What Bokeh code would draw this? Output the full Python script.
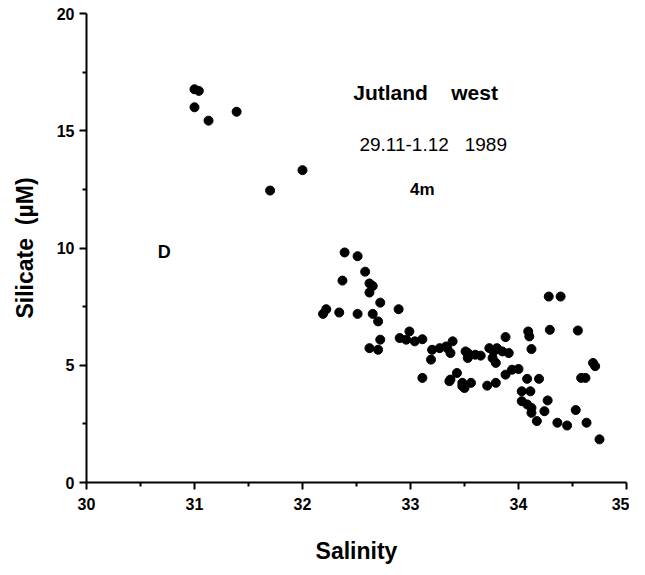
from bokeh.plotting import figure
from bokeh.models import FixedTicker, Label
from bokeh.embed import file_html
from bokeh.resources import INLINE

salinity = [31.00, 31.04, 31.00, 31.13, 31.39, 32.00, 31.70,
            32.39, 32.51, 32.58, 32.37, 32.62, 32.65, 32.62, 32.72, 32.89,
            32.22, 32.19, 32.34, 32.51, 32.65, 32.70, 32.72, 32.62, 32.70,
            32.90, 32.96, 32.99, 33.04, 33.11, 33.20, 33.27, 33.33, 33.39,
            33.19, 33.53, 33.53, 33.11, 33.37, 33.43, 33.48,
            34.28, 34.39, 34.29, 34.55, 34.09, 34.10, 33.88, 34.12,
            34.69, 34.71, 34.58, 34.62,
            33.34, 33.37, 33.51, 33.54, 33.60, 33.65,
            33.73, 33.77, 33.80, 33.85, 33.91, 33.76, 33.79,
            33.88, 33.94, 34.00, 33.36, 33.48, 33.50, 33.56, 33.71, 33.79,
            34.08, 34.19, 34.03, 34.11, 34.03, 34.08, 34.12, 34.12, 34.17,
            34.27, 34.24, 34.36, 34.45, 34.53, 34.63, 34.75]
silicate = [16.77, 16.70, 16.00, 15.43, 15.81, 13.32, 12.45,
            9.81, 9.65, 8.99, 8.61, 8.49, 8.38, 8.10, 7.67, 7.39,
            7.39, 7.19, 7.25, 7.19, 7.19, 6.87, 6.09, 5.73, 5.66,
            6.16, 6.09, 6.44, 6.02, 6.11, 5.66, 5.73, 5.80, 6.02,
            5.24, 5.52, 5.31, 4.46, 4.39, 4.67, 4.11,
            7.93, 7.93, 6.51, 6.48, 6.44, 6.23, 6.20, 5.69,
            5.10, 4.96, 4.46, 4.46,
            5.73, 5.52, 5.59, 5.41, 5.45, 5.41,
            5.73, 5.59, 5.73, 5.59, 5.52, 5.31, 5.10,
            4.60, 4.81, 4.84, 4.32, 4.25, 4.03, 4.25, 4.13, 4.25,
            4.42, 4.42, 3.89, 3.89, 3.47, 3.33, 3.18, 2.97, 2.62,
            3.50, 3.04, 2.55, 2.43, 3.09, 2.55, 1.84]

x_ticks = [30, 31, 32, 33, 34, 35]
x_minor = [30.5, 31.5, 32.5, 33.5, 34.5]
y_ticks = [0, 5, 10, 15, 20]
y_minor = [2.5, 7.5, 12.5, 17.5]

FONT = "Liberation Sans"
NB = "\u00a0"

p = figure(output_backend="svg", toolbar_location=None,
           frame_width=540, frame_height=469,
           min_border_left=86, min_border_right=3,
           min_border_top=13, min_border_bottom=77,
           x_range=(30, 35), y_range=(0, 20),
           x_axis_label="Salinity", y_axis_label="Silicate" + NB * 2 + "(\u00b5M)")
p.background_fill_color = "white"
p.border_fill_color = "white"
p.outline_line_color = None
p.xgrid.visible = False
p.ygrid.visible = False

p.scatter(salinity, silicate, marker="circle", size=9,
          fill_color="black", line_color="black")

for ax in (p.xaxis[0], p.yaxis[0]):
    ax.axis_line_width = 2
    ax.axis_line_color = "black"
    ax.major_tick_line_width = 2
    ax.minor_tick_line_width = 2
    ax.major_tick_out = 7
    ax.major_tick_in = 0
    ax.minor_tick_out = 4
    ax.minor_tick_in = 0
    ax.major_label_text_font = FONT
    ax.major_label_text_font_style = "bold"
    ax.major_label_text_font_size = "16px"
    ax.major_label_text_color = "black"
    ax.axis_label_text_font = FONT
    ax.axis_label_text_font_style = "bold"
    ax.axis_label_text_font_size = "23px"
    ax.axis_label_text_color = "black"

p.xaxis[0].ticker = FixedTicker(ticks=x_ticks, minor_ticks=x_minor)
p.yaxis[0].ticker = FixedTicker(ticks=y_ticks, minor_ticks=y_minor)
p.xaxis[0].major_label_standoff = 8
p.xaxis[0].axis_label_standoff = 25
p.yaxis[0].major_label_standoff = 5
p.yaxis[0].axis_label_standoff = 16

p.add_layout(Label(x=33.14, y=16.63, text="Jutland" + NB * 4 + "west", text_font=FONT,
                   text_font_style="bold", text_font_size="21px", text_color="black",
                   text_align="center", text_baseline="middle"))
p.add_layout(Label(x=33.21, y=14.41, text="29.11-1.12" + NB * 3 + "1989", text_font=FONT,
                   text_font_size="19px", text_color="black",
                   text_align="center", text_baseline="middle"))
p.add_layout(Label(x=33.11, y=12.49, text="4m", text_font=FONT,
                   text_font_style="bold", text_font_size="17px", text_color="black",
                   text_align="center", text_baseline="middle"))
p.add_layout(Label(x=30.72, y=9.81, text="D", text_font=FONT,
                   text_font_style="bold", text_font_size="18px", text_color="black",
                   text_align="center", text_baseline="middle"))

open("out.html", "w").write(file_html(p, INLINE))
